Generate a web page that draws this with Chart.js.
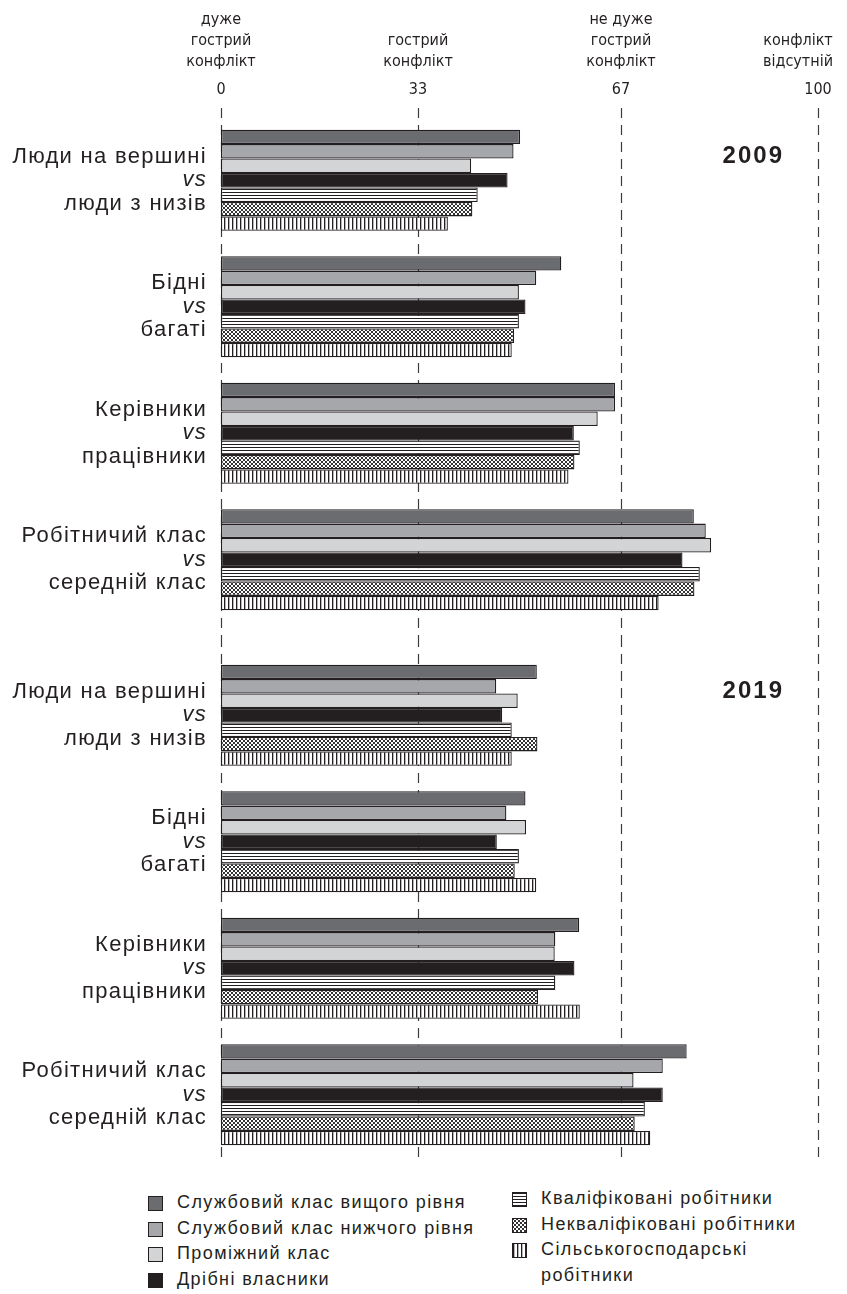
<!DOCTYPE html>
<html lang="uk">
<head>
<meta charset="utf-8">
<title>Гострота конфліктів між групами, 2009 і 2019</title>
<script src="https://cdn.jsdelivr.net/npm/chart.js@4.4.1/dist/chart.umd.min.js"></script>
<style>
  html, body { margin: 0; padding: 0; background: #fff; }
  #wrap { position: relative; width: 847px; height: 1294px; overflow: hidden; }
  #c2009 { position: absolute; left: 0; top: 0; }
  #c2019 { position: absolute; left: 0; top: 637px; }
  .legend { position: absolute; font: 18px "Liberation Sans", Arial, sans-serif; letter-spacing: 1.4px; color: #231f20; }
  .legend .item { display: flex; align-items: flex-start; line-height: 25.7px; }
  .legend .sw { width: 13px; height: 13px; border: 1px solid #231f20; margin: 6px 14px 0 0; flex: none; }
  #leg1 { left: 148px; top: 1190px; }
  #leg2 { left: 512px; top: 1186px; }
  #leg2 .txt { width: 260px; }
</style>
</head>
<body>
<div id="wrap">
  <canvas id="c2009" width="847" height="637"></canvas>
  <canvas id="c2019" width="847" height="543"></canvas>
  <div class="legend" id="leg1"></div>
  <div class="legend" id="leg2"></div>
</div>
<script>
// categories (pairs of groups in conflict)
const conflicts = [
  ["Люди на вершині", "vs", "люди з низів"],
  ["Бідні", "vs", "багаті"],
  ["Керівники", "vs", "працівники"],
  ["Робітничий клас", "vs", "середній клас"],
];

// series: classes of respondents
const classes = [
  "Службовий клас вищого рівня",
  "Службовий клас нижчого рівня",
  "Проміжний клас",
  "Дрібні власники",
  "Кваліфіковані робітники",
  "Некваліфіковані робітники",
  "Сільськогосподарські робітники",
];

// 2009, one array per class, one value per conflict
const upper2009 = [50.1, 57.0, 66.0, 79.2];
const lower2009 = [49.0, 52.8, 66.0, 81.2];
const middle2009 = [41.9, 49.9, 63.1, 82.1];
const owners2009 = [48.0, 51.0, 59.1, 77.3];
const skilled2009 = [43.0, 49.9, 60.1, 80.2];
const unskilled2009 = [42.1, 49.1, 59.2, 79.3];
const farm2009 = [38.0, 48.7, 58.2, 73.3];

// 2019
const upper2019 = [52.9, 51.0, 60.0, 78.0];
const lower2019 = [46.1, 47.8, 56.0, 74.0];
const middle2019 = [49.7, 51.1, 55.9, 69.1];
const owners2019 = [47.1, 46.2, 59.2, 74.0];
const skilled2019 = [48.7, 49.9, 56.0, 71.0];
const unskilled2019 = [53.0, 49.2, 53.1, 69.3];
const farm2019 = [48.7, 52.8, 60.1, 71.9];

// scale ticks and their meaning
const tickValues = [0, 33, 67, 100];
const tickNotes = [
  ["дуже", "гострий", "конфлікт"],
  ["гострий", "конфлікт"],
  ["не дуже", "гострий", "конфлікт"],
  ["конфлікт", "відсутній"],
];

const INK = "#231f20";

// little tiles for the hatched fills
function makeTile(kind) {
  const c = document.createElement("canvas");
  const g = c.getContext("2d");
  c.width = 4;
  c.height = kind === "hlines" ? 3 : 4;
  g.fillStyle = "#fff";
  g.fillRect(0, 0, c.width, c.height);
  g.fillStyle = INK;
  if (kind === "hlines") {
    g.fillRect(0, 0, 4, 1);
  } else if (kind === "vlines") {
    g.fillRect(0, 0, 1, 4);
    g.fillStyle = "#b5b5b5";
    g.fillRect(1, 0, 1, 4);
  } else if (kind === "cross") {
    g.fillStyle = "#333";
    [[0, 0], [1, 1], [2, 2], [3, 3], [3, 0], [2, 1], [1, 2], [0, 3]].forEach(([x, y]) => g.fillRect(x, y, 1, 1));
  }
  return c;
}

const fills = [
  { color: "#6b6c70" },
  { color: "#a6a7aa" },
  { color: "#d3d4d6" },
  { color: INK },
  { tile: makeTile("hlines") },
  { tile: makeTile("cross") },
  { tile: makeTile("vlines") },
];

function fillFor(ctx, f) {
  return f.tile ? ctx.createPattern(f.tile, "repeat") : f.color;
}

const font = '"Liberation Sans", Arial, sans-serif';
const narrow = '"Liberation Sans Narrow", "DejaVu Sans Condensed", "Liberation Sans", sans-serif';

const decor = {
  id: "decor",
  beforeDatasetsDraw(chart, args, opts) {
    const { ctx } = chart;
    const x = chart.scales.x;
    ctx.save();
    ctx.strokeStyle = "#3c3c3c";
    ctx.lineWidth = 1.2;
    ctx.setLineDash([10, 7]);
    tickValues.forEach((v) => {
      const px = Math.round(x.getPixelForValue(v)) + 0.5;
      ctx.beginPath();
      ctx.moveTo(px, opts.gridTop);
      ctx.lineTo(px, opts.gridBottom);
      ctx.stroke();
    });
    ctx.restore();
  },
  afterDraw(chart, args, opts) {
    const { ctx, chartArea } = chart;
    const y = chart.scales.y;
    const x = chart.scales.x;
    ctx.save();
    ctx.fillStyle = INK;
    ctx.textAlign = "right";
    ctx.textBaseline = "middle";
    ctx.letterSpacing = "1.3px";
    conflicts.forEach((lines, i) => {
      const cy = y.getPixelForValue(i);
      lines.forEach((t, k) => {
        ctx.font = (k === 1 ? "italic " : "") + "22px " + font;
        ctx.fillText(t, chartArea.left - 14, cy + (k - 1) * 23.5);
      });
    });
    ctx.letterSpacing = "2px";
    ctx.font = "bold 24px " + font;
    ctx.fillText(opts.year, chartArea.right - 34, chartArea.top + 39);

    if (opts.notes) {
      ctx.letterSpacing = "0px";
      ctx.font = "16px " + narrow;
      ctx.textAlign = "center";
      tickNotes.forEach((lines, i) => {
        const w = Math.max(...lines.map((t) => ctx.measureText(t).width));
        const cx = Math.min(x.getPixelForValue(tickValues[i]), chart.width - 14 - w / 2);
        lines.forEach((t, k) => {
          ctx.fillText(t, cx, 62 - (lines.length - 1 - k) * 21);
        });
      });
    }
    ctx.restore();
  },
};

function buildChart(id, year, series, withAxis, padding, gridTop, gridBottom) {
  const ctx = document.getElementById(id).getContext("2d");
  return new Chart(ctx, {
    type: "bar",
    data: {
      labels: conflicts.map((c) => c.join(" ")),
      datasets: classes.map((name, i) => ({
        label: name,
        data: series[i],
        backgroundColor: fillFor(ctx, fills[i]),
        borderColor: INK,
        borderWidth: 1.3,
        borderSkipped: false,
        categoryPercentage: 0.8,
        barPercentage: 1.0,
      })),
    },
    options: {
      indexAxis: "y",
      responsive: false,
      animation: false,
      layout: { padding: padding },
      plugins: {
        legend: { display: false },
        tooltip: { enabled: true },
        decor: { year: year, notes: withAxis, gridTop: gridTop, gridBottom: gridBottom },
      },
      scales: {
        x: {
          display: withAxis,
          position: "top",
          min: 0,
          max: 100,
          afterBuildTicks: (scale) => {
            scale.ticks = tickValues.map((v) => ({ value: v }));
          },
          afterFit: (scale) => {
            // keep the axis box fixed so both panels share the same x range
            if (!withAxis) return;
            scale.height = 38;
            scale.paddingLeft = 0;
            scale.paddingRight = 0;
            scale.paddingTop = 0;
            scale.paddingBottom = 0;
          },
          ticks: {
            autoSkip: false,
            maxRotation: 0,
            padding: 18,
            color: INK,
            font: { family: narrow, size: 16 },
          },
          grid: { display: false, drawTicks: false },
          border: { display: false },
        },
        y: {
          display: false,
          type: "category",
        },
      },
    },
    plugins: [decor],
  });
}

buildChart(
  "c2009", "2009",
  [upper2009, lower2009, middle2009, owners2009, skilled2009, unskilled2009, farm2009],
  true, { top: 79, left: 221, right: 29, bottom: 14 }, 108, 637
);
buildChart(
  "c2019", "2019",
  [upper2019, lower2019, middle2019, owners2019, skilled2019, unskilled2019, farm2019],
  false, { top: 15, left: 221, right: 29, bottom: 22 }, 0, 525
);

// legend, two columns
function legendItem(i) {
  const f = fills[i];
  const row = document.createElement("div");
  row.className = "item";
  const sw = document.createElement("span");
  sw.className = "sw";
  if (f.tile) sw.style.backgroundImage = "url(" + f.tile.toDataURL() + ")";
  else sw.style.background = f.color;
  const txt = document.createElement("span");
  txt.className = "txt";
  txt.textContent = classes[i];
  row.appendChild(sw);
  row.appendChild(txt);
  return row;
}
[0, 1, 2, 3].forEach((i) => document.getElementById("leg1").appendChild(legendItem(i)));
[4, 5, 6].forEach((i) => document.getElementById("leg2").appendChild(legendItem(i)));
</script>
</body>
</html>
